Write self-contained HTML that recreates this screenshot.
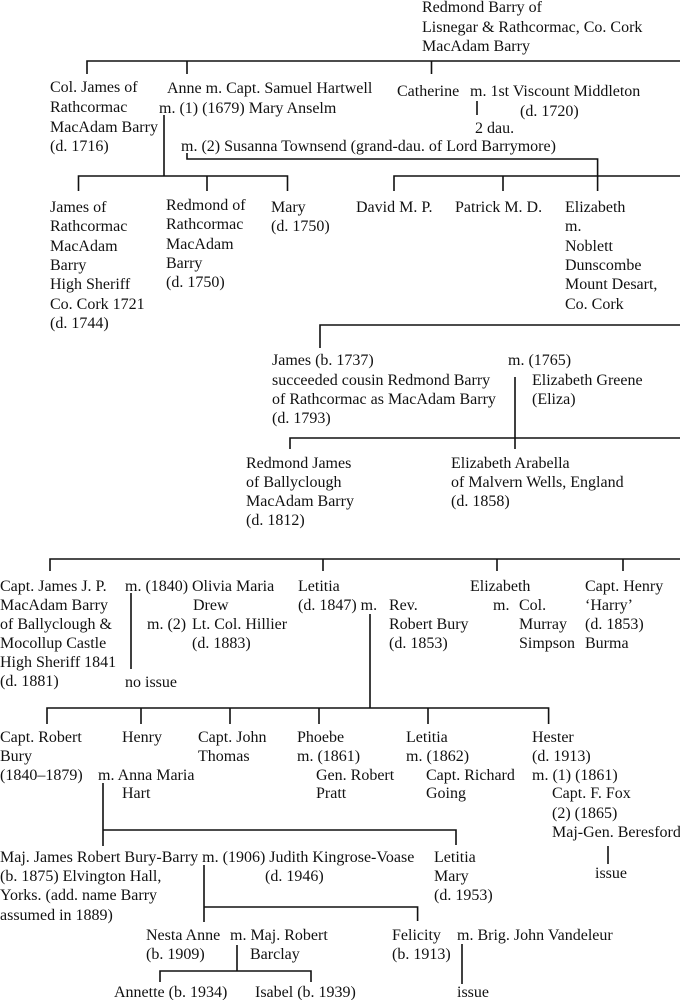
<!DOCTYPE html>
<html><head><meta charset="utf-8"><style>
html,body{margin:0;padding:0;background:#fff;}
svg{display:block;}
text{font-family:"Liberation Serif",serif;font-size:16px;fill:#111;}
</style></head><body>
<svg width="680" height="1000" viewBox="0 0 680 1000" xmlns="http://www.w3.org/2000/svg">
<g stroke="#111" stroke-width="1.6" fill="none">
<path d="M87,74V61H680M187,61V74M431.5,61V74"/>
<path d="M477,101V115"/>
<path d="M164,115V176M78.5,191V176H287.5V191M207,176V191"/>
<path d="M187,153V159H597.6V191M394,191V176H680M503,176V191"/>
<path d="M320,348V325H680"/>
<path d="M515,377V449M290,449V438H680"/>
<path d="M50,571V559H680M323,559V571M497,559V571M623,559V571"/>
<path d="M131,593V669"/>
<path d="M370,614V708M47,724V708H548.6V724M141,708V724M230,708V724M319,708V724M428,708V724"/>
<path d="M608,846V864"/>
<path d="M103,783V846M103,830H456V845"/>
<path d="M204,865V922M204,907H417.6V921"/>
<path d="M237,945V971M160,982V971H311V982"/>
<path d="M462,944V984"/>
</g>
<text x="422" y="12">Redmond Barry of</text>
<text x="422" y="32">Lisnegar &amp; Rathcormac, Co. Cork</text>
<text x="422" y="51">MacAdam Barry</text>
<text x="50" y="92">Col. James of</text><text x="50" y="112">Rathcormac</text><text x="50" y="132">MacAdam Barry</text><text x="50" y="151">(d. 1716)</text>
<text x="167" y="93">Anne m. Capt. Samuel Hartwell</text>
<text x="159" y="113">m. (1) (1679) Mary Anselm</text>
<text x="397" y="96">Catherine</text><text x="470" y="96">m. 1st Viscount Middleton</text>
<text x="520" y="116">(d. 1720)</text><text x="475" y="133">2 dau.</text>
<text x="181" y="151">m. (2) Susanna Townsend (grand-dau. of Lord Barrymore)</text>
<text x="50" y="212">James of</text><text x="50" y="231">Rathcormac</text><text x="50" y="251">MacAdam</text><text x="50" y="270">Barry</text><text x="50" y="289">High Sheriff</text><text x="50" y="309">Co. Cork 1721</text><text x="50" y="328">(d. 1744)</text>
<text x="166" y="210">Redmond of</text><text x="166" y="229">Rathcormac</text><text x="166" y="249">MacAdam</text><text x="166" y="268">Barry</text><text x="166" y="287">(d. 1750)</text>
<text x="271" y="212">Mary</text><text x="271" y="231">(d. 1750)</text>
<text x="356" y="212">David M. P.</text><text x="455" y="212">Patrick M. D.</text>
<text x="565" y="212">Elizabeth</text><text x="565" y="231">m.</text><text x="565" y="251">Noblett</text><text x="565" y="270">Dunscombe</text><text x="565" y="289">Mount Desart,</text><text x="565" y="309">Co. Cork</text>
<text x="272" y="365">James (b. 1737)</text><text x="272" y="385">succeeded cousin Redmond Barry</text><text x="272" y="404">of Rathcormac as MacAdam Barry</text><text x="272" y="423">(d. 1793)</text>
<text x="508" y="365">m. (1765)</text><text x="532" y="385">Elizabeth Greene</text><text x="532" y="404">(Eliza)</text>
<text x="246" y="468">Redmond James</text><text x="246" y="487">of Ballyclough</text><text x="246" y="506">MacAdam Barry</text><text x="246" y="525">(d. 1812)</text>
<text x="451" y="468">Elizabeth Arabella</text><text x="451" y="487">of Malvern Wells, England</text><text x="451" y="506">(d. 1858)</text>
<text x="0" y="591">Capt. James J. P.</text><text x="0" y="610">MacAdam Barry</text><text x="0" y="629">of Ballyclough &amp;</text><text x="0" y="648">Mocollup Castle</text><text x="0" y="667">High Sheriff 1841</text><text x="0" y="686">(d. 1881)</text>
<text x="125" y="591">m. (1840)</text><text x="192" y="591">Olivia Maria</text><text x="193" y="610">Drew</text>
<text x="147" y="629">m. (2)</text><text x="192" y="629">Lt. Col. Hillier</text><text x="192" y="648">(d. 1883)</text>
<text x="125" y="687">no issue</text>
<text x="298" y="591">Letitia</text><text x="298" y="610">(d. 1847) m.</text>
<text x="389" y="610">Rev.</text><text x="389" y="629">Robert Bury</text><text x="389" y="648">(d. 1853)</text>
<text x="470" y="591">Elizabeth</text><text x="493" y="610">m.</text><text x="519" y="610">Col.</text><text x="519" y="629">Murray</text><text x="519" y="648">Simpson</text>
<text x="585" y="591">Capt. Henry</text><text x="585" y="610">‘Harry’</text><text x="585" y="629">(d. 1853)</text><text x="585" y="648">Burma</text>
<text x="0" y="742">Capt. Robert</text><text x="0" y="761">Bury</text><text x="0" y="780">(1840–1879)</text>
<text x="122" y="742">Henry</text><text x="98" y="780">m. Anna Maria</text><text x="122" y="798">Hart</text>
<text x="198" y="742">Capt. John</text><text x="198" y="761">Thomas</text>
<text x="297" y="742">Phoebe</text><text x="297" y="761">m. (1861)</text><text x="316" y="780">Gen. Robert</text><text x="316" y="798">Pratt</text>
<text x="406" y="742">Letitia</text><text x="406" y="761">m. (1862)</text><text x="426" y="780">Capt. Richard</text><text x="426" y="798">Going</text>
<text x="532" y="742">Hester</text><text x="532" y="761">(d. 1913)</text><text x="532" y="780">m. (1) (1861)</text><text x="552" y="798">Capt. F. Fox</text><text x="552" y="818">(2) (1865)</text><text x="552" y="837">Maj-Gen. Beresford</text>
<text x="595" y="878">issue</text>
<text x="0" y="862">Maj. James Robert Bury-Barry m. (1906) Judith Kingrose-Voase</text>
<text x="0" y="881">(b. 1875) Elvington Hall,</text><text x="265" y="881">(d. 1946)</text>
<text x="0" y="900">Yorks. (add. name Barry</text><text x="0" y="920">assumed in 1889)</text>
<text x="434" y="862">Letitia</text><text x="434" y="881">Mary</text><text x="434" y="900">(d. 1953)</text>
<text x="146" y="940">Nesta Anne</text><text x="230" y="940">m. Maj. Robert</text><text x="146" y="959">(b. 1909)</text><text x="250" y="959">Barclay</text>
<text x="392" y="940">Felicity</text><text x="392" y="959">(b. 1913)</text><text x="457" y="940">m. Brig. John Vandeleur</text>
<text x="114" y="997">Annette (b. 1934)</text><text x="255" y="997">Isabel (b. 1939)</text><text x="457" y="997">issue</text>
</svg>
</body></html>
